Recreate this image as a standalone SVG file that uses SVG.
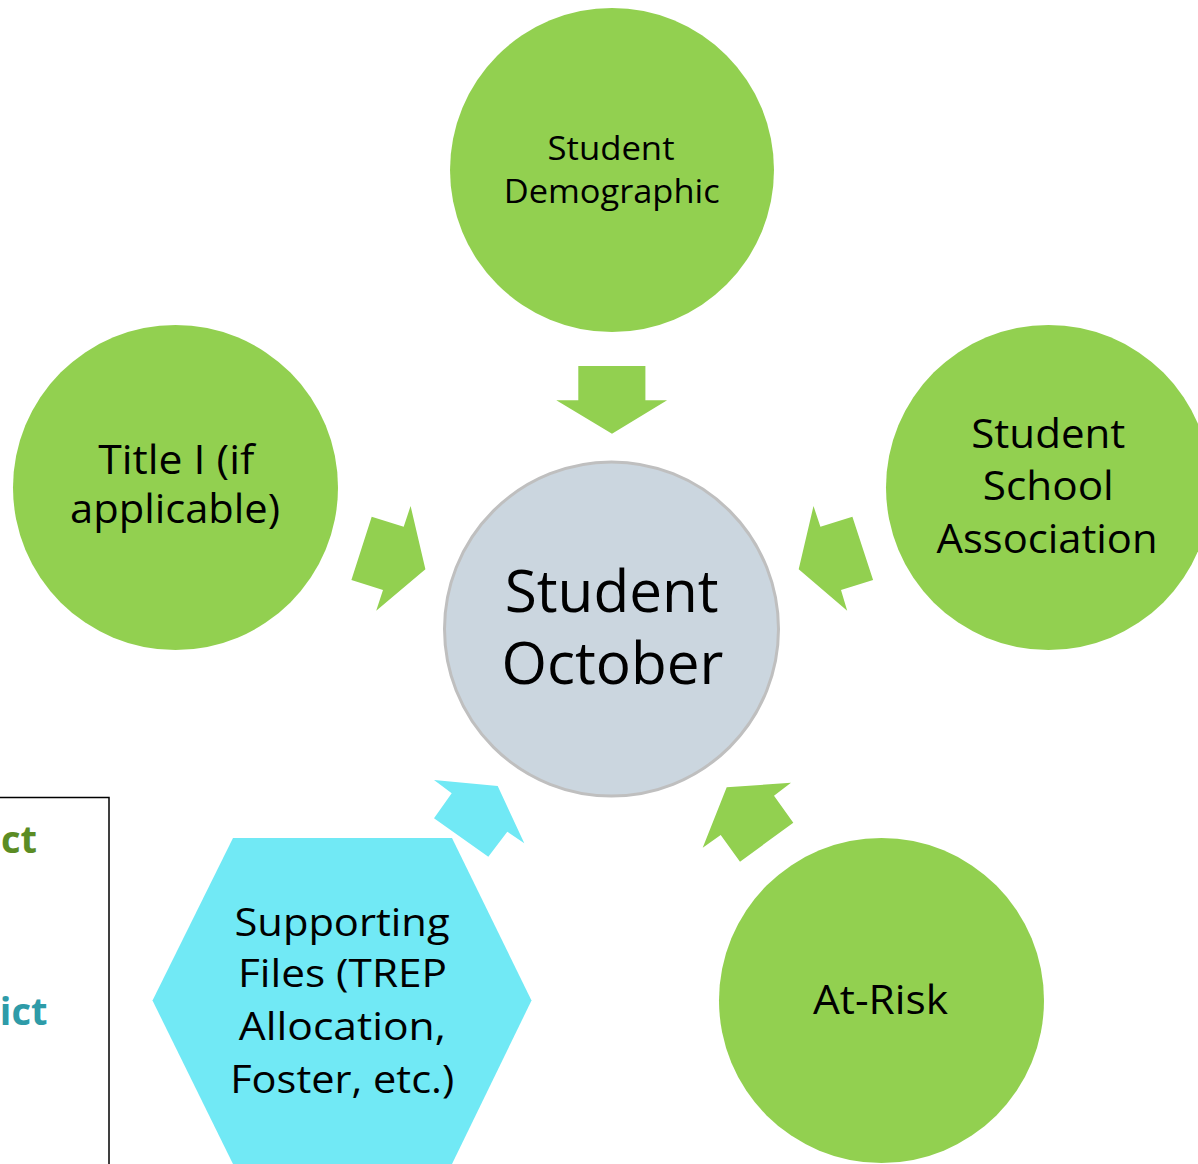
<svg xmlns="http://www.w3.org/2000/svg" width="1198" height="1164" viewBox="0 0 1198 1164">
<style>
.g{fill:#92D050}
.c{fill:#71E9F5}
.t{font-family:"Open Sans","Liberation Sans",sans-serif;fill:#000;text-anchor:middle}
.lb{font-family:"Open Sans","Liberation Sans",sans-serif;font-weight:bold;text-anchor:end}
</style>
<rect width="1198" height="1164" fill="#fff"/>
<g id="legend">
<rect x="-20" y="797.5" width="129" height="400" fill="none" stroke="#000" stroke-width="1.5"/>
<text class="lb" x="37" y="852.5" font-size="38" fill="#5B8C24">ct</text>
<text class="lb" x="47.5" y="1025" font-size="38" fill="#2E9BA8">ict</text>
</g>
<g id="connectors">
<polygon class="g" points="578.3,366 645.4,366 645.4,400.3 667.1,400.3 612,433.7 556.3,400.3 578.3,400.3"/>
<polygon class="g" points="371.7,516.7 403.7,526.7 410.6,506 425.4,569.3 376.2,610.7 383,590 351.4,580"/>
<polygon class="g" points="852.4,516.7 820.4,526.7 813.5,506 798.7,569.3 847.2,610.7 841,590 873.1,580"/>
<polygon class="c" points="434,780 497.7,786 524.3,843.3 507.3,831.7 488.3,856.7 434,818.3 451.7,793.3"/>
<polygon class="g" points="726.7,787.3 791,782.7 774,795.7 793.3,822.7 740,861.7 720.7,835 702.7,847.7"/>
</g>
<g id="student-demographic">
<circle class="g" cx="612" cy="170" r="162"/>
<text class="t" font-size="32" x="611" y="159.5" textLength="127" lengthAdjust="spacingAndGlyphs">Student</text>
<text class="t" font-size="32" x="611.7" y="202.7" textLength="216" lengthAdjust="spacingAndGlyphs">Demographic</text>
</g>
<g id="title-i">
<circle class="g" cx="175.5" cy="487.5" r="162.5"/>
<text class="t" font-size="40" x="176.3" y="474.3" textLength="156" lengthAdjust="spacingAndGlyphs">Title I (if</text>
<text class="t" font-size="40" x="175" y="523.3" textLength="210" lengthAdjust="spacingAndGlyphs">applicable)</text>
</g>
<g id="student-school-association">
<circle class="g" cx="1048.5" cy="487.5" r="162.5"/>
<text class="t" font-size="40" x="1048.3" y="448.3" textLength="154" lengthAdjust="spacingAndGlyphs">Student</text>
<text class="t" font-size="40" x="1048.3" y="500" textLength="131" lengthAdjust="spacingAndGlyphs">School</text>
<text class="t" font-size="40" x="1047" y="553.3" textLength="221" lengthAdjust="spacingAndGlyphs">Association</text>
</g>
<g id="student-october">
<circle cx="611.5" cy="629" r="167" fill="#CBD6DF" stroke="#BFBFBF" stroke-width="3"/>
<text class="t" font-size="58" x="611.7" y="612.3" textLength="214" lengthAdjust="spacingAndGlyphs">Student</text>
<text class="t" font-size="58" x="612.5" y="684" textLength="222" lengthAdjust="spacingAndGlyphs">October</text>
</g>
<g id="supporting-files">
<polygon class="c" points="233,838 452,838 531.5,1000.5 452,1164 233,1164 152.5,1000.5"/>
<text class="t" font-size="39" x="342" y="936" textLength="215" lengthAdjust="spacingAndGlyphs">Supporting</text>
<text class="t" font-size="39" x="342.5" y="987.3" textLength="209" lengthAdjust="spacingAndGlyphs">Files (TREP</text>
<text class="t" font-size="39" x="342.3" y="1040" textLength="207" lengthAdjust="spacingAndGlyphs">Allocation,</text>
<text class="t" font-size="39" x="342.2" y="1093.3" textLength="224" lengthAdjust="spacingAndGlyphs">Foster, etc.)</text>
</g>
<g id="at-risk">
<circle class="g" cx="881.5" cy="1000.5" r="162.5"/>
<text class="t" font-size="41" x="880.5" y="1014.3" textLength="135" lengthAdjust="spacingAndGlyphs">At-Risk</text>
</g>
</svg>
